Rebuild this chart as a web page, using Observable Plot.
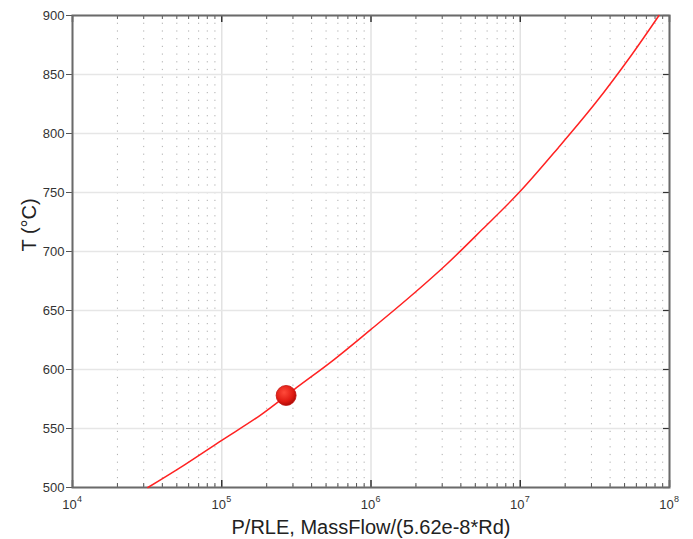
<!DOCTYPE html>
<html>
<head>
<meta charset="utf-8">
<script src="https://cdn.jsdelivr.net/npm/d3@7"></script>
<script src="https://cdn.jsdelivr.net/npm/@observablehq/plot@0.6"></script>
<style>
  html, body { margin: 0; padding: 0; background: #fff; }
  #chart { width: 693px; height: 539px; }
</style>
</head>
<body>
<div id="chart"></div>
<script>
// ---- data ----
const xTicks = [1e4, 1e5, 1e6, 1e7, 1e8];
const yTicks = [500, 550, 600, 650, 700, 750, 800, 850, 900];
const curveX = [3.2e4, 5.6e4, 1e5, 1.8e5, 3.2e5, 5.6e5, 1e6, 1.8e6, 3.2e6, 5.6e6, 1e7, 1.8e7, 3.2e7, 5.6e7, 8.5e7];
const curveT = [500, 519, 540, 561, 585, 608, 634, 661, 689, 719, 751, 788, 826, 867, 900];
const pointX = [2.7e5];
const pointT = [578];
const xLabel = "P/RLE, MassFlow/(5.62e-8*Rd)";
const yLabel = "T (°C)";

// minor log ticks 2..9 within each decade
const minorTicks = [];
for (let k = 4; k < 8; k++) for (let m = 2; m <= 9; m++) minorTicks.push(m * Math.pow(10, k));

const curve = curveX.map((x, i) => ({x, T: curveT[i]}));
const points = pointX.map((x, i) => ({x, T: pointT[i]}));
const expo = d => String(Math.round(Math.log10(d)));

const W = 693, H = 539, mL = 72, mR = 24, mT = 15, mB = 52;
const pw = W - mL - mR, ph = H - mT - mB;

const defs = () => {
  const g = d3.create("svg:defs");
  const rg = g.append("radialGradient").attr("id", "dotGrad")
    .attr("cx", "40%").attr("cy", "35%").attr("r", "65%");
  rg.append("stop").attr("offset", "0%").attr("stop-color", "#ff4a3a");
  rg.append("stop").attr("offset", "70%").attr("stop-color", "#e01a12");
  rg.append("stop").attr("offset", "100%").attr("stop-color", "#b00c08");
  return g.node();
};

const chart = Plot.plot({
  width: W, height: H,
  marginLeft: mL, marginRight: mR, marginTop: mT, marginBottom: mB,
  style: {fontFamily: "'Liberation Sans', Arial, sans-serif", fontSize: "13px", color: "#333", background: "#fff"},
  x: {type: "log", domain: [1e4, 1e8], axis: null},
  y: {domain: [500, 900]},
  marks: [
    defs,
    // grid
    Plot.ruleX(minorTicks, {stroke: "#a0a0a0", strokeWidth: 1, strokeDasharray: "1.2,6.5", strokeOpacity: 0.85}),
    Plot.ruleX(xTicks, {stroke: "#e2e2e2", strokeWidth: 1.5}),
    Plot.ruleY(yTicks, {stroke: "#e6e6e6", strokeWidth: 1.5}),
    // inner ticks bottom/top
    Plot.tickX(minorTicks, {x: d => d, insetTop: ph - 4, stroke: "#555", strokeWidth: 1}),
    Plot.tickX(minorTicks, {x: d => d, insetBottom: ph - 4, stroke: "#555", strokeWidth: 1}),
    Plot.tickX(xTicks, {x: d => d, insetTop: ph - 7, stroke: "#333", strokeWidth: 1.5}),
    Plot.tickX(xTicks, {x: d => d, insetBottom: ph - 7, stroke: "#333", strokeWidth: 1.5}),
    // inner ticks right
    Plot.tickY(yTicks, {y: d => d, insetLeft: pw - 6, stroke: "#333", strokeWidth: 1.2}),
    // x tick labels: base and exponent
    Plot.text(xTicks, {x: d => d, text: () => "10", frameAnchor: "bottom", dy: 21, dx: -3, fontSize: 13, fill: "#333"}),
    Plot.text(xTicks, {x: d => d, text: expo, frameAnchor: "bottom", dy: 14, dx: 7, fontSize: 9, fill: "#333"}),
    Plot.axisY(yTicks, {tickSize: 6, tickPadding: 2, stroke: "#555", fontSize: 13, fill: "#333", label: null}),
    Plot.text([xLabel], {frameAnchor: "bottom", dy: 46, fontSize: 20, fill: "#222"}),
    Plot.text([yLabel], {frameAnchor: "left", dx: -43, rotate: -90, fontSize: 20, fill: "#222"}),
    Plot.frame({stroke: "#6a6a6a", strokeWidth: 2}),
    // data
    Plot.line(curve, {x: "x", y: "T", stroke: "#ff2222", strokeWidth: 1.5, curve: "catmull-rom"}),
    Plot.dot(points, {x: "x", y: "T", r: 10, fill: "url(#dotGrad)", stroke: "#c0100c", strokeWidth: 0.8})
  ]
});
document.getElementById("chart").appendChild(chart);
</script>
</body>
</html>
